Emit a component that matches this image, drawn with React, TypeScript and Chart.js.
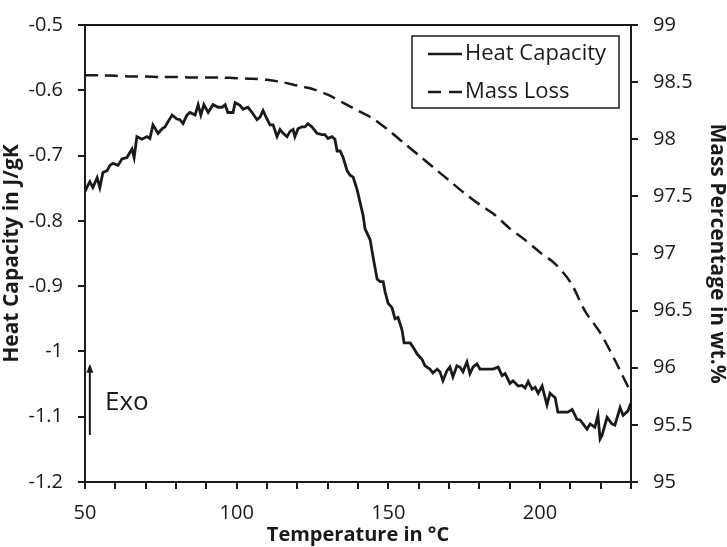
import React, { useEffect, useRef } from 'react';
import { Chart, registerables } from 'chart.js';

Chart.register(...registerables);

// ---- data ----
const temperatures = [
  50.0, 50.7, 51.6, 52.6, 54.0, 54.9, 55.9, 57.3, 58.2, 59.2,
  60.9, 62.2, 63.8, 65.5, 66.2, 67.1, 68.8, 70.4, 71.4, 72.4,
  74.1, 75.4, 76.4, 77.0, 78.7, 80.3, 81.3, 82.3, 83.6, 84.6,
  86.3, 87.3, 88.2, 89.2, 90.6, 92.2, 93.9, 95.2, 96.2, 97.1,
  98.8, 99.5, 101.1, 102.1, 103.7, 105.1, 106.7, 107.7, 108.7, 110.0,
  111.0, 112.0, 113.3, 114.3, 115.3, 116.6, 117.6, 118.6, 119.2, 120.2,
  121.5, 122.5, 123.5, 124.8, 126.5, 128.1, 129.1, 130.1, 131.4, 132.4,
  133.1, 134.1, 135.1, 136.4, 137.4, 138.4, 139.7, 140.7, 141.7, 142.3,
  144.0, 145.0, 146.3, 147.3, 148.3, 148.9, 149.9, 151.2, 152.2, 153.2,
  154.5, 155.2, 157.2, 158.1, 159.5, 161.1, 162.1, 163.7, 164.7, 166.1,
  167.0, 168.0, 169.3, 170.3, 171.3, 172.6, 173.6, 174.6, 175.9, 176.9,
  177.9, 179.2, 180.2, 182.5, 184.5, 186.2, 187.5, 188.5, 190.1, 191.1,
  192.8, 194.1, 195.1, 196.1, 197.4, 198.4, 199.4, 200.7, 201.7, 202.3,
  203.3, 205.0, 205.9, 207.6, 209.2, 210.6, 212.2, 213.2, 214.2, 215.5,
  216.5, 218.1, 219.1, 219.8, 220.5, 222.1, 223.7, 224.7, 226.4, 227.4,
  229.0, 230.0,
];

const heatCapacity = [
  -0.755, -0.748, -0.740, -0.749, -0.734, -0.749, -0.726, -0.723, -0.715, -0.712,
  -0.715, -0.705, -0.703, -0.690, -0.703, -0.671, -0.675, -0.671, -0.674, -0.653,
  -0.666, -0.659, -0.656, -0.651, -0.638, -0.644, -0.645, -0.651, -0.638, -0.634,
  -0.638, -0.622, -0.638, -0.622, -0.634, -0.622, -0.626, -0.626, -0.622, -0.634,
  -0.634, -0.619, -0.623, -0.629, -0.626, -0.634, -0.645, -0.641, -0.631, -0.644,
  -0.653, -0.653, -0.671, -0.660, -0.666, -0.671, -0.663, -0.660, -0.671, -0.659,
  -0.656, -0.656, -0.651, -0.656, -0.666, -0.668, -0.668, -0.674, -0.671, -0.675,
  -0.693, -0.693, -0.703, -0.723, -0.730, -0.733, -0.752, -0.772, -0.792, -0.812,
  -0.829, -0.856, -0.889, -0.893, -0.893, -0.908, -0.926, -0.933, -0.950, -0.948,
  -0.967, -0.987, -0.987, -0.993, -1.004, -1.012, -1.022, -1.027, -1.033, -1.027,
  -1.031, -1.045, -1.030, -1.024, -1.039, -1.022, -1.024, -1.031, -1.016, -1.034,
  -1.024, -1.019, -1.027, -1.027, -1.027, -1.024, -1.037, -1.034, -1.049, -1.045,
  -1.053, -1.052, -1.056, -1.046, -1.058, -1.055, -1.064, -1.053, -1.071, -1.082,
  -1.064, -1.071, -1.093, -1.093, -1.093, -1.089, -1.104, -1.105, -1.111, -1.119,
  -1.111, -1.116, -1.098, -1.134, -1.128, -1.101, -1.111, -1.113, -1.086, -1.098,
  -1.091, -1.079,
];

const massTemperatures = [
  50, 55, 60, 65, 70, 75, 80, 85, 90, 95,
  100, 105, 110, 115, 120, 125, 130, 135, 140, 145,
  150, 155, 160, 165, 170, 175, 180, 185, 190, 195,
  200, 205, 210, 215, 220, 225, 230,
];

const massPercentage = [
  98.56, 98.56, 98.555, 98.55, 98.55, 98.545, 98.545, 98.54, 98.54, 98.54,
  98.535, 98.53, 98.52, 98.5, 98.47, 98.44, 98.39, 98.32, 98.25, 98.18,
  98.08, 97.97, 97.86, 97.75, 97.64, 97.53, 97.43, 97.34, 97.22, 97.12,
  97.01, 96.91, 96.75, 96.49, 96.3, 96.05, 95.78,
];

const seriesNames = ['Heat Capacity', 'Mass Loss'];
const xTitle = 'Temperature in °C';
const yLeftTitle = 'Heat Capacity in J/gK';
const yRightTitle = 'Mass Percentage in wt.%';
const annotationText = 'Exo';
const arrowX = 51.6;
const arrowFrom = -1.128;
const arrowTo = -1.019;
const annotationAt = [56.6, -1.079];

const FONT = '"Open Sans", "DejaVu Sans", sans-serif';
const INK = '#1a1a1a';

const framePlugin = {
  id: 'frameAndLegend',
  afterDraw(chart: any) {
    const { ctx, chartArea: a, scales } = chart;
    ctx.save();
    // top frame line
    ctx.strokeStyle = INK;
    ctx.lineWidth = 2;
    ctx.setLineDash([]);
    ctx.beginPath();
    ctx.moveTo(a.left - 1, a.top);
    ctx.lineTo(a.right + 1, a.top);
    ctx.stroke();

    // legend box
    const bx = a.right - 219;
    const by = a.top + 11;
    ctx.lineWidth = 1.5;
    ctx.strokeRect(bx, by, 207, 72);
    const sx0 = a.right - 203;
    const sx1 = a.right - 169;
    const rows = [a.top + 29, a.top + 67];
    ctx.lineWidth = 2.6;
    ctx.beginPath();
    ctx.moveTo(sx0, rows[0]);
    ctx.lineTo(sx1, rows[0]);
    ctx.stroke();
    ctx.setLineDash([13, 8]);
    ctx.beginPath();
    ctx.moveTo(sx0, rows[1]);
    ctx.lineTo(sx1, rows[1]);
    ctx.stroke();
    ctx.setLineDash([]);
    ctx.fillStyle = INK;
    ctx.font = `22px ${FONT}`;
    ctx.textAlign = 'left';
    ctx.textBaseline = 'middle';
    ctx.fillText(seriesNames[0], a.right - 166, rows[0]);
    ctx.fillText(seriesNames[1], a.right - 166, rows[1]);

    // Exo arrow annotation
    const x = scales.x.getPixelForValue(arrowX);
    const y0 = scales.y.getPixelForValue(arrowFrom);
    const y1 = scales.y.getPixelForValue(arrowTo);
    ctx.lineWidth = 2;
    ctx.beginPath();
    ctx.moveTo(x, y0);
    ctx.lineTo(x, y1 + 6);
    ctx.stroke();
    ctx.beginPath();
    ctx.moveTo(x, y1);
    ctx.lineTo(x - 3.5, y1 + 9);
    ctx.lineTo(x + 3.5, y1 + 9);
    ctx.closePath();
    ctx.fill();
    ctx.font = `26px ${FONT}`;
    ctx.fillText(
      annotationText,
      scales.x.getPixelForValue(annotationAt[0]),
      scales.y.getPixelForValue(annotationAt[1])
    );
    ctx.restore();
  },
};

export default function App() {
  const canvasRef = useRef<HTMLCanvasElement | null>(null);

  useEffect(() => {
    document.body.style.margin = '0';
    const canvas = canvasRef.current;
    if (!canvas) return;

    const tickFont = { family: FONT, size: 20, lineHeight: 1 };
    const axisGrid = {
      drawOnChartArea: false,
      drawTicks: true,
      tickLength: 7,
      color: INK,
      lineWidth: 2,
    };
    const axisBorder = { display: true, color: INK, width: 2 };

    const chart = new Chart(canvas, {
      type: 'line',
      data: {
        datasets: [
          {
            label: seriesNames[0],
            data: temperatures.map((t, i) => ({ x: t, y: heatCapacity[i] })),
            borderColor: INK,
            borderWidth: 2.8,
            pointRadius: 0,
            tension: 0,
            fill: false,
            yAxisID: 'y',
          },
          {
            label: seriesNames[1],
            data: massTemperatures.map((t, i) => ({ x: t, y: massPercentage[i] })),
            borderColor: INK,
            borderWidth: 2.5,
            borderDash: [13, 7],
            pointRadius: 0,
            tension: 0.3,
            fill: false,
            yAxisID: 'y2',
          },
        ],
      },
      options: {
        animation: false,
        responsive: true,
        maintainAspectRatio: false,
        layout: { padding: { top: 10, left: 0, right: 0, bottom: 0 } },
        plugins: {
          legend: { display: false },
          tooltip: { enabled: false },
        },
        scales: {
          x: {
            type: 'linear',
            min: 50,
            max: 230,
            grid: axisGrid,
            border: axisBorder,
            ticks: {
              stepSize: 10,
              autoSkip: false,
              maxRotation: 0,
              color: INK,
              font: tickFont,
              padding: 14,
              callback: (v: any) => (Number(v) % 50 === 0 ? String(v) : ''),
            },
            title: {
              display: true,
              text: xTitle,
              color: INK,
              font: { family: FONT, size: 20, weight: 'bold', lineHeight: 1.1 },
              padding: { top: 0, bottom: 1 },
            },
            afterFit: (s: any) => {
              s.height = 65;
            },
          },
          y: {
            type: 'linear',
            position: 'left',
            min: -1.2,
            max: -0.5,
            grid: axisGrid,
            border: axisBorder,
            ticks: {
              stepSize: 0.1,
              color: INK,
              font: tickFont,
              padding: 15,
              callback: (v: any) => String(Math.round(Number(v) * 10) / 10),
            },
            title: {
              display: true,
              text: yLeftTitle,
              color: INK,
              font: { family: FONT, size: 21, weight: 'bold', lineHeight: 1 },
              padding: { top: 2, bottom: 0 },
            },
            afterFit: (s: any) => {
              s.width = 85;
            },
          },
          y2: {
            type: 'linear',
            position: 'right',
            min: 95,
            max: 99,
            grid: axisGrid,
            border: axisBorder,
            ticks: {
              stepSize: 0.5,
              color: INK,
              font: tickFont,
              padding: 15,
              callback: (v: any) => String(Math.round(Number(v) * 10) / 10),
            },
            title: {
              display: true,
              text: yRightTitle,
              color: INK,
              font: { family: FONT, size: 21, weight: 'bold', lineHeight: 1 },
              padding: { top: 0, bottom: 0 },
            },
            afterFit: (s: any) => {
              s.width = 96;
            },
          },
        },
      },
      plugins: [framePlugin],
    } as any);

    return () => chart.destroy();
  }, []);

  return (
    <div style={{ width: 727, height: 547, position: 'relative', background: '#fff' }}>
      <canvas ref={canvasRef} />
    </div>
  );
}
